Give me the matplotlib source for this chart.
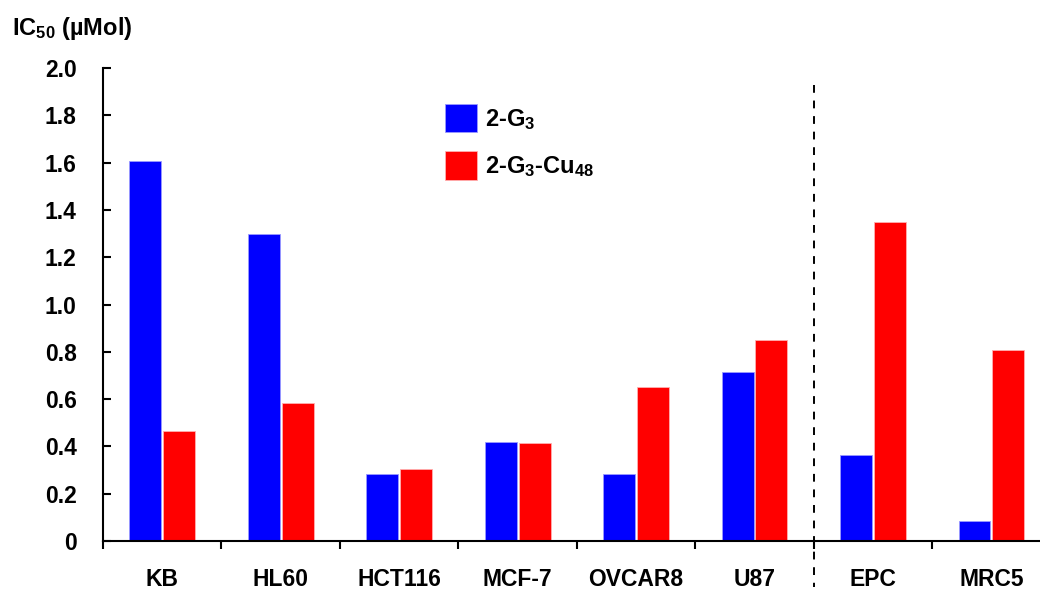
import matplotlib
matplotlib.use("Agg")
import matplotlib.pyplot as plt
import numpy as np

plt.rcParams['font.family'] = ['Liberation Sans', 'DejaVu Sans']
plt.rcParams['font.weight'] = 'bold'
plt.rcParams['mathtext.fontset'] = 'custom'
plt.rcParams['mathtext.rm'] = 'Liberation Sans:bold'
plt.rcParams['mathtext.it'] = 'Liberation Sans:bold'
plt.rcParams['mathtext.bf'] = 'Liberation Sans:bold'

cell_lines = ["KB", "HL60", "HCT116", "MCF-7", "OVCAR8", "U87", "EPC", "MRC5"]
g3 = [1.605, 1.30, 0.285, 0.42, 0.285, 0.715, 0.365, 0.083]
g3_cu48 = [0.467, 0.583, 0.304, 0.413, 0.652, 0.852, 1.347, 0.806]
series_labels = [r"2-G$_3$", r"2-G$_3$-Cu$_{48}$"]
yticks = [0, 0.2, 0.4, 0.6, 0.8, 1.0, 1.2, 1.4, 1.6, 1.8, 2.0]
ytick_labels = ["0", "0.2", "0.4", "0.6", "0.8", "1.0", "1.2", "1.4", "1.6", "1.8", "2.0"]

fig = plt.figure(figsize=(10.4, 5.9), dpi=100)
ax = fig.add_axes([103 / 1040, 49 / 590, 1 - 103 / 1040, (541 - 68) / 590])

centers = np.arange(len(cell_lines)) + 0.5
w = 0.27
b1 = ax.bar(centers - w / 2 - 0.008, g3, w, color="#0000ff", edgecolor="#9a9aff", linewidth=0.6)
b2 = ax.bar(centers + w / 2 + 0.008, g3_cu48, w, color="#ff0000", edgecolor="#ffb0b0", linewidth=0.6)

ax.set_xlim(0, 7.91)
ax.set_ylim(0, 2.0)

for s in ["top", "right"]:
    ax.spines[s].set_visible(False)
ax.spines["left"].set_linewidth(1.5)
ax.spines["bottom"].set_linewidth(1.5)

ax.set_yticks(yticks)
ax.set_yticklabels(ytick_labels, fontsize=16.5, fontweight="bold")
ax.tick_params(axis="y", direction="in", length=6, width=1.5, pad=19)

ax.set_xticks(np.arange(0, 8))
ax.set_xticklabels([])
ax.tick_params(axis="x", which="major", direction="out", length=6, width=1.5)
ax.set_xticks(centers, minor=True)
ax.set_xticklabels(cell_lines, minor=True, fontsize=16.5, fontweight="bold")
ax.tick_params(axis="x", which="minor", length=0, pad=19.5)

# separator between tumour lines and normal cells
ax.plot([6, 6], [1.93, -0.195], color="black", linestyle=(0, (4, 4)),
        linewidth=1.4, clip_on=False)

fig.text(12 / 1040, 1 - 28 / 590, "IC$_{50}$ (µMol)", fontsize=17,
         fontweight="bold", ha="left", va="center")

ax.legend([b1, b2], series_labels, loc="upper left",
          bbox_to_anchor=(445 / 1040, 1 - 104 / 590),
          bbox_transform=fig.transFigure, frameon=False,
          borderpad=0, borderaxespad=0, handlelength=1.36, handleheight=1.48,
          handletextpad=0.34, labelspacing=0.8,
          prop={"weight": "bold", "size": 17})

fig.savefig("out.png", dpi=100)
